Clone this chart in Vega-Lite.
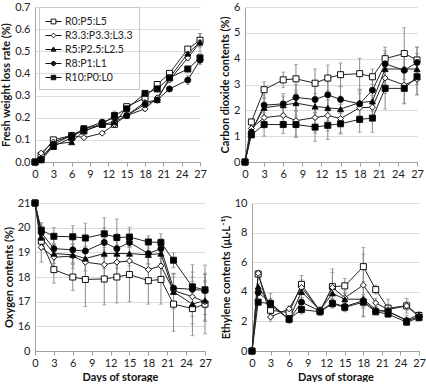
{
  "$schema": "https://vega.github.io/schema/vega-lite/v6.json",
  "padding": {"top": 1, "left": 0, "right": 6, "bottom": 0},
  "background": "white",
  "datasets": {
    "fw": [
      {"d":0,"t":"R0:P5:L5","v":0,"e":0},{"d":1,"t":"R0:P5:L5","v":0.03,"e":0},{"d":3,"t":"R0:P5:L5","v":0.10,"e":0},{"d":6,"t":"R0:P5:L5","v":0.12,"e":0},{"d":8,"t":"R0:P5:L5","v":0.14,"e":0},{"d":11,"t":"R0:P5:L5","v":0.17,"e":0},{"d":13,"t":"R0:P5:L5","v":0.17,"e":0.01},{"d":15,"t":"R0:P5:L5","v":0.25,"e":0},{"d":18,"t":"R0:P5:L5","v":0.29,"e":0.01},{"d":20,"t":"R0:P5:L5","v":0.35,"e":0},{"d":22,"t":"R0:P5:L5","v":0.40,"e":0},{"d":25,"t":"R0:P5:L5","v":0.51,"e":0.01},{"d":27,"t":"R0:P5:L5","v":0.55,"e":0.03},
      {"d":0,"t":"R3.3:P3.3:L3.3","v":0,"e":0},{"d":1,"t":"R3.3:P3.3:L3.3","v":0.04,"e":0},{"d":3,"t":"R3.3:P3.3:L3.3","v":0.09,"e":0},{"d":6,"t":"R3.3:P3.3:L3.3","v":0.12,"e":0},{"d":8,"t":"R3.3:P3.3:L3.3","v":0.11,"e":0},{"d":11,"t":"R3.3:P3.3:L3.3","v":0.13,"e":0},{"d":13,"t":"R3.3:P3.3:L3.3","v":0.17,"e":0.01},{"d":15,"t":"R3.3:P3.3:L3.3","v":0.21,"e":0},{"d":18,"t":"R3.3:P3.3:L3.3","v":0.24,"e":0.01},{"d":20,"t":"R3.3:P3.3:L3.3","v":0.29,"e":0},{"d":22,"t":"R3.3:P3.3:L3.3","v":0.37,"e":0},{"d":25,"t":"R3.3:P3.3:L3.3","v":0.47,"e":0.01},{"d":27,"t":"R3.3:P3.3:L3.3","v":0.54,"e":0.02},
      {"d":0,"t":"R5:P2.5:L2.5","v":0,"e":0},{"d":1,"t":"R5:P2.5:L2.5","v":0.02,"e":0},{"d":3,"t":"R5:P2.5:L2.5","v":0.08,"e":0},{"d":6,"t":"R5:P2.5:L2.5","v":0.09,"e":0},{"d":8,"t":"R5:P2.5:L2.5","v":0.14,"e":0},{"d":11,"t":"R5:P2.5:L2.5","v":0.17,"e":0.01},{"d":13,"t":"R5:P2.5:L2.5","v":0.18,"e":0.01},{"d":15,"t":"R5:P2.5:L2.5","v":0.21,"e":0},{"d":18,"t":"R5:P2.5:L2.5","v":0.27,"e":0},{"d":20,"t":"R5:P2.5:L2.5","v":0.28,"e":0},{"d":22,"t":"R5:P2.5:L2.5","v":0.38,"e":0},{"d":25,"t":"R5:P2.5:L2.5","v":0.49,"e":0.01},{"d":27,"t":"R5:P2.5:L2.5","v":0.54,"e":0.04},
      {"d":0,"t":"R8:P1:L1","v":0,"e":0},{"d":1,"t":"R8:P1:L1","v":0.01,"e":0},{"d":3,"t":"R8:P1:L1","v":0.08,"e":0},{"d":6,"t":"R8:P1:L1","v":0.12,"e":0},{"d":8,"t":"R8:P1:L1","v":0.15,"e":0},{"d":11,"t":"R8:P1:L1","v":0.18,"e":0},{"d":13,"t":"R8:P1:L1","v":0.20,"e":0.01},{"d":15,"t":"R8:P1:L1","v":0.21,"e":0},{"d":18,"t":"R8:P1:L1","v":0.26,"e":0},{"d":20,"t":"R8:P1:L1","v":0.28,"e":0},{"d":22,"t":"R8:P1:L1","v":0.33,"e":0},{"d":25,"t":"R8:P1:L1","v":0.37,"e":0.02},{"d":27,"t":"R8:P1:L1","v":0.46,"e":0.02},
      {"d":0,"t":"R10:P0:L0","v":0,"e":0},{"d":1,"t":"R10:P0:L0","v":0.01,"e":0},{"d":3,"t":"R10:P0:L0","v":0.07,"e":0},{"d":6,"t":"R10:P0:L0","v":0.11,"e":0},{"d":8,"t":"R10:P0:L0","v":0.15,"e":0},{"d":11,"t":"R10:P0:L0","v":0.17,"e":0.01},{"d":13,"t":"R10:P0:L0","v":0.21,"e":0.02},{"d":15,"t":"R10:P0:L0","v":0.24,"e":0},{"d":18,"t":"R10:P0:L0","v":0.31,"e":0},{"d":20,"t":"R10:P0:L0","v":0.33,"e":0},{"d":22,"t":"R10:P0:L0","v":0.38,"e":0},{"d":25,"t":"R10:P0:L0","v":0.42,"e":0},{"d":27,"t":"R10:P0:L0","v":0.47,"e":0.02}
    ],
    "co2": [
      {"d":0,"t":"R0:P5:L5","v":0,"e":0},{"d":1,"t":"R0:P5:L5","v":1.55,"e":0.1},{"d":3,"t":"R0:P5:L5","v":2.8,"e":0.3},{"d":6,"t":"R0:P5:L5","v":3.18,"e":0.3},{"d":8,"t":"R0:P5:L5","v":3.22,"e":0.55},{"d":11,"t":"R0:P5:L5","v":3.05,"e":0.55},{"d":13,"t":"R0:P5:L5","v":3.25,"e":0.5},{"d":15,"t":"R0:P5:L5","v":3.38,"e":0.45},{"d":18,"t":"R0:P5:L5","v":3.42,"e":0.6},{"d":20,"t":"R0:P5:L5","v":3.3,"e":0.3},{"d":22,"t":"R0:P5:L5","v":4.0,"e":0.45},{"d":25,"t":"R0:P5:L5","v":4.2,"e":1.0},{"d":27,"t":"R0:P5:L5","v":3.95,"e":0.5},
      {"d":0,"t":"R3.3:P3.3:L3.3","v":0,"e":0},{"d":1,"t":"R3.3:P3.3:L3.3","v":1.3,"e":0.15},{"d":3,"t":"R3.3:P3.3:L3.3","v":1.72,"e":0.4},{"d":6,"t":"R3.3:P3.3:L3.3","v":1.8,"e":0.4},{"d":8,"t":"R3.3:P3.3:L3.3","v":1.6,"e":0.6},{"d":11,"t":"R3.3:P3.3:L3.3","v":1.72,"e":0.6},{"d":13,"t":"R3.3:P3.3:L3.3","v":1.8,"e":0.6},{"d":15,"t":"R3.3:P3.3:L3.3","v":1.68,"e":0.55},{"d":18,"t":"R3.3:P3.3:L3.3","v":2.1,"e":0.55},{"d":20,"t":"R3.3:P3.3:L3.3","v":2.12,"e":0.45},{"d":22,"t":"R3.3:P3.3:L3.3","v":3.25,"e":0.6},{"d":25,"t":"R3.3:P3.3:L3.3","v":2.98,"e":0.7},{"d":27,"t":"R3.3:P3.3:L3.3","v":3.2,"e":0.6},
      {"d":0,"t":"R5:P2.5:L2.5","v":0,"e":0},{"d":1,"t":"R5:P2.5:L2.5","v":1.2,"e":0.1},{"d":3,"t":"R5:P2.5:L2.5","v":2.1,"e":0.35},{"d":6,"t":"R5:P2.5:L2.5","v":2.2,"e":0.35},{"d":8,"t":"R5:P2.5:L2.5","v":2.28,"e":0.5},{"d":11,"t":"R5:P2.5:L2.5","v":2.15,"e":0.5},{"d":13,"t":"R5:P2.5:L2.5","v":2.1,"e":0.5},{"d":15,"t":"R5:P2.5:L2.5","v":2.05,"e":0.5},{"d":18,"t":"R5:P2.5:L2.5","v":2.3,"e":0.5},{"d":20,"t":"R5:P2.5:L2.5","v":2.35,"e":0.4},{"d":22,"t":"R5:P2.5:L2.5","v":3.6,"e":0.6},{"d":25,"t":"R5:P2.5:L2.5","v":3.6,"e":0.7},{"d":27,"t":"R5:P2.5:L2.5","v":3.6,"e":0.6},
      {"d":0,"t":"R8:P1:L1","v":0,"e":0},{"d":1,"t":"R8:P1:L1","v":1.15,"e":0.1},{"d":3,"t":"R8:P1:L1","v":2.2,"e":0.4},{"d":6,"t":"R8:P1:L1","v":2.25,"e":0.4},{"d":8,"t":"R8:P1:L1","v":2.5,"e":0.5},{"d":11,"t":"R8:P1:L1","v":2.42,"e":0.5},{"d":13,"t":"R8:P1:L1","v":2.6,"e":0.5},{"d":15,"t":"R8:P1:L1","v":2.42,"e":0.5},{"d":18,"t":"R8:P1:L1","v":2.25,"e":0.5},{"d":20,"t":"R8:P1:L1","v":2.78,"e":0.4},{"d":22,"t":"R8:P1:L1","v":3.8,"e":0.5},{"d":25,"t":"R8:P1:L1","v":3.55,"e":0.6},{"d":27,"t":"R8:P1:L1","v":3.85,"e":0.6},
      {"d":0,"t":"R10:P0:L0","v":0,"e":0},{"d":1,"t":"R10:P0:L0","v":1.05,"e":0.1},{"d":3,"t":"R10:P0:L0","v":1.45,"e":0.45},{"d":6,"t":"R10:P0:L0","v":1.45,"e":0.35},{"d":8,"t":"R10:P0:L0","v":1.45,"e":0.5},{"d":11,"t":"R10:P0:L0","v":1.35,"e":0.55},{"d":13,"t":"R10:P0:L0","v":1.42,"e":0.55},{"d":15,"t":"R10:P0:L0","v":1.48,"e":0.4},{"d":18,"t":"R10:P0:L0","v":1.65,"e":0.5},{"d":20,"t":"R10:P0:L0","v":1.7,"e":0.55},{"d":22,"t":"R10:P0:L0","v":2.85,"e":0.8},{"d":25,"t":"R10:P0:L0","v":2.85,"e":0.6},{"d":27,"t":"R10:P0:L0","v":3.3,"e":0.7}
    ],
    "o2": [
      {"d":0,"t":"R0:P5:L5","v":21,"e":0},{"d":1,"t":"R0:P5:L5","v":19.45,"e":0.3},{"d":3,"t":"R0:P5:L5","v":18.3,"e":0.55},{"d":6,"t":"R0:P5:L5","v":18.0,"e":0.55},{"d":8,"t":"R0:P5:L5","v":17.9,"e":1.1},{"d":11,"t":"R0:P5:L5","v":17.92,"e":1.05},{"d":13,"t":"R0:P5:L5","v":18.0,"e":1.05},{"d":15,"t":"R0:P5:L5","v":18.1,"e":1.1},{"d":18,"t":"R0:P5:L5","v":17.85,"e":0.95},{"d":20,"t":"R0:P5:L5","v":17.9,"e":1.0},{"d":22,"t":"R0:P5:L5","v":16.9,"e":1.1},{"d":25,"t":"R0:P5:L5","v":16.72,"e":1.1},{"d":27,"t":"R0:P5:L5","v":16.9,"e":1.2},
      {"d":0,"t":"R3.3:P3.3:L3.3","v":21,"e":0},{"d":1,"t":"R3.3:P3.3:L3.3","v":19.2,"e":0.6},{"d":3,"t":"R3.3:P3.3:L3.3","v":18.8,"e":0.5},{"d":6,"t":"R3.3:P3.3:L3.3","v":18.85,"e":0.5},{"d":8,"t":"R3.3:P3.3:L3.3","v":18.6,"e":0.6},{"d":11,"t":"R3.3:P3.3:L3.3","v":18.5,"e":0.7},{"d":13,"t":"R3.3:P3.3:L3.3","v":18.6,"e":0.7},{"d":15,"t":"R3.3:P3.3:L3.3","v":18.65,"e":0.6},{"d":18,"t":"R3.3:P3.3:L3.3","v":18.3,"e":0.5},{"d":20,"t":"R3.3:P3.3:L3.3","v":18.45,"e":0.5},{"d":22,"t":"R3.3:P3.3:L3.3","v":17.45,"e":0.7},{"d":25,"t":"R3.3:P3.3:L3.3","v":17.2,"e":0.8},{"d":27,"t":"R3.3:P3.3:L3.3","v":17.0,"e":0.8},
      {"d":0,"t":"R5:P2.5:L2.5","v":21,"e":0},{"d":1,"t":"R5:P2.5:L2.5","v":19.6,"e":0.5},{"d":3,"t":"R5:P2.5:L2.5","v":18.95,"e":0.4},{"d":6,"t":"R5:P2.5:L2.5","v":18.9,"e":0.4},{"d":8,"t":"R5:P2.5:L2.5","v":18.75,"e":0.5},{"d":11,"t":"R5:P2.5:L2.5","v":18.95,"e":0.6},{"d":13,"t":"R5:P2.5:L2.5","v":18.95,"e":0.6},{"d":15,"t":"R5:P2.5:L2.5","v":18.95,"e":0.5},{"d":18,"t":"R5:P2.5:L2.5","v":18.9,"e":0.4},{"d":20,"t":"R5:P2.5:L2.5","v":18.95,"e":0.4},{"d":22,"t":"R5:P2.5:L2.5","v":17.4,"e":0.7},{"d":25,"t":"R5:P2.5:L2.5","v":16.9,"e":0.8},{"d":27,"t":"R5:P2.5:L2.5","v":17.05,"e":0.8},
      {"d":0,"t":"R8:P1:L1","v":21,"e":0},{"d":1,"t":"R8:P1:L1","v":19.8,"e":0.4},{"d":3,"t":"R8:P1:L1","v":19.15,"e":0.4},{"d":6,"t":"R8:P1:L1","v":19.1,"e":0.5},{"d":8,"t":"R8:P1:L1","v":19.05,"e":0.5},{"d":11,"t":"R8:P1:L1","v":19.4,"e":0.6},{"d":13,"t":"R8:P1:L1","v":19.15,"e":0.6},{"d":15,"t":"R8:P1:L1","v":19.4,"e":0.5},{"d":18,"t":"R8:P1:L1","v":18.95,"e":0.4},{"d":20,"t":"R8:P1:L1","v":19.15,"e":0.4},{"d":22,"t":"R8:P1:L1","v":17.55,"e":0.6},{"d":25,"t":"R8:P1:L1","v":17.5,"e":0.7},{"d":27,"t":"R8:P1:L1","v":17.45,"e":0.7},
      {"d":0,"t":"R10:P0:L0","v":21,"e":0},{"d":1,"t":"R10:P0:L0","v":19.9,"e":0.3},{"d":3,"t":"R10:P0:L0","v":19.65,"e":0.35},{"d":6,"t":"R10:P0:L0","v":19.63,"e":0.45},{"d":8,"t":"R10:P0:L0","v":19.58,"e":0.6},{"d":11,"t":"R10:P0:L0","v":19.75,"e":0.65},{"d":13,"t":"R10:P0:L0","v":19.6,"e":0.75},{"d":15,"t":"R10:P0:L0","v":19.62,"e":0.4},{"d":18,"t":"R10:P0:L0","v":19.42,"e":0.25},{"d":20,"t":"R10:P0:L0","v":19.4,"e":0.35},{"d":22,"t":"R10:P0:L0","v":18.68,"e":0.3},{"d":25,"t":"R10:P0:L0","v":17.6,"e":0.9},{"d":27,"t":"R10:P0:L0","v":17.48,"e":1.0}
    ],
    "eth": [
      {"d":0,"t":"R0:P5:L5","v":0,"e":0},{"d":1,"t":"R0:P5:L5","v":5.2,"e":0.2},{"d":3,"t":"R0:P5:L5","v":2.75,"e":0.3},{"d":6,"t":"R0:P5:L5","v":2.6,"e":0.2},{"d":8,"t":"R0:P5:L5","v":4.5,"e":0.6},{"d":11,"t":"R0:P5:L5","v":2.7,"e":0.3},{"d":13,"t":"R0:P5:L5","v":4.35,"e":1.2},{"d":15,"t":"R0:P5:L5","v":4.4,"e":0.5},{"d":18,"t":"R0:P5:L5","v":5.7,"e":1.3},{"d":20,"t":"R0:P5:L5","v":4.15,"e":0.3},{"d":22,"t":"R0:P5:L5","v":2.9,"e":0.6},{"d":25,"t":"R0:P5:L5","v":3.05,"e":0.5},{"d":27,"t":"R0:P5:L5","v":2.4,"e":0.2},
      {"d":0,"t":"R3.3:P3.3:L3.3","v":0,"e":0},{"d":1,"t":"R3.3:P3.3:L3.3","v":5.25,"e":0.2},{"d":3,"t":"R3.3:P3.3:L3.3","v":2.3,"e":0.3},{"d":6,"t":"R3.3:P3.3:L3.3","v":2.85,"e":0.2},{"d":8,"t":"R3.3:P3.3:L3.3","v":4.3,"e":0.5},{"d":11,"t":"R3.3:P3.3:L3.3","v":2.7,"e":0.2},{"d":13,"t":"R3.3:P3.3:L3.3","v":4.3,"e":1.0},{"d":15,"t":"R3.3:P3.3:L3.3","v":3.6,"e":0.5},{"d":18,"t":"R3.3:P3.3:L3.3","v":4.45,"e":2.1},{"d":20,"t":"R3.3:P3.3:L3.3","v":3.25,"e":0.3},{"d":22,"t":"R3.3:P3.3:L3.3","v":2.8,"e":0.3},{"d":25,"t":"R3.3:P3.3:L3.3","v":3.05,"e":0.3},{"d":27,"t":"R3.3:P3.3:L3.3","v":2.3,"e":0.2},
      {"d":0,"t":"R5:P2.5:L2.5","v":0,"e":0},{"d":1,"t":"R5:P2.5:L2.5","v":4.35,"e":0.2},{"d":3,"t":"R5:P2.5:L2.5","v":3.1,"e":0.8},{"d":6,"t":"R5:P2.5:L2.5","v":2.15,"e":0.2},{"d":8,"t":"R5:P2.5:L2.5","v":4.0,"e":0.4},{"d":11,"t":"R5:P2.5:L2.5","v":2.75,"e":0.2},{"d":13,"t":"R5:P2.5:L2.5","v":3.9,"e":0.4},{"d":15,"t":"R5:P2.5:L2.5","v":3.5,"e":0.4},{"d":18,"t":"R5:P2.5:L2.5","v":3.5,"e":1.2},{"d":20,"t":"R5:P2.5:L2.5","v":2.8,"e":0.2},{"d":22,"t":"R5:P2.5:L2.5","v":2.65,"e":0.3},{"d":25,"t":"R5:P2.5:L2.5","v":2.1,"e":0.3},{"d":27,"t":"R5:P2.5:L2.5","v":2.45,"e":0.2},
      {"d":0,"t":"R8:P1:L1","v":0,"e":0},{"d":1,"t":"R8:P1:L1","v":3.95,"e":0.2},{"d":3,"t":"R8:P1:L1","v":3.25,"e":0.3},{"d":6,"t":"R8:P1:L1","v":2.1,"e":0.2},{"d":8,"t":"R8:P1:L1","v":3.3,"e":0.3},{"d":11,"t":"R8:P1:L1","v":2.7,"e":0.2},{"d":13,"t":"R8:P1:L1","v":3.25,"e":0.3},{"d":15,"t":"R8:P1:L1","v":3.0,"e":0.3},{"d":18,"t":"R8:P1:L1","v":3.4,"e":0.4},{"d":20,"t":"R8:P1:L1","v":2.7,"e":0.2},{"d":22,"t":"R8:P1:L1","v":2.7,"e":0.2},{"d":25,"t":"R8:P1:L1","v":2.05,"e":0.2},{"d":27,"t":"R8:P1:L1","v":2.3,"e":0.2},
      {"d":0,"t":"R10:P0:L0","v":0,"e":0},{"d":1,"t":"R10:P0:L0","v":3.3,"e":0.2},{"d":3,"t":"R10:P0:L0","v":3.2,"e":0.3},{"d":6,"t":"R10:P0:L0","v":2.15,"e":0.2},{"d":8,"t":"R10:P0:L0","v":2.8,"e":0.3},{"d":11,"t":"R10:P0:L0","v":2.65,"e":0.2},{"d":13,"t":"R10:P0:L0","v":3.2,"e":0.3},{"d":15,"t":"R10:P0:L0","v":2.95,"e":0.3},{"d":18,"t":"R10:P0:L0","v":3.3,"e":0.4},{"d":20,"t":"R10:P0:L0","v":2.65,"e":0.2},{"d":22,"t":"R10:P0:L0","v":2.5,"e":0.2},{"d":25,"t":"R10:P0:L0","v":1.95,"e":0.2},{"d":27,"t":"R10:P0:L0","v":2.25,"e":0.2}
    ]
  },
  "config": {
    "font": "Lato",
    "view": {"stroke": null},
    "axis": {
      "labelFont": "Lato", "labelFontSize": 11, "labelColor": "#222",
      "titleFont": "Lato", "titleFontSize": 11, "titleFontWeight": "bold", "titleColor": "#111",
      "domainColor": "#a0a0a0", "tickColor": "#a0a0a0", "gridColor": "#dcdcdc",
      "labelOverlap": false, "labelFlush": false
    },
    "axisX": {"grid": false, "tickSize": 4, "labelPadding": 2, "titlePadding": 3},
    "axisY": {"ticks": false, "labelPadding": 5, "titlePadding": 3}
  },
  "vconcat": [
    {
      "spacing": 12,
      "hconcat": [
        {
          "width": 165, "height": 155,
          "data": {"name": "fw"},
          "encoding": {
            "x": {"field": "d", "type": "quantitative", "scale": {"domain": [0, 27], "nice": false}, "axis": {"values": [0,3,6,9,12,15,18,21,24,27], "title": null}},
            "y": {"field": "v", "type": "quantitative", "scale": {"domain": [0, 0.7], "nice": false}, "axis": {"values": [0,0.1,0.2,0.3,0.4,0.5,0.6,0.7], "format": ".1f", "title": "Fresh weight loss rate (%)"}}
          },
          "layer": [
            {"mark": {"type": "errorbar", "ticks": {"size": 4}, "color": "#8a8a8a", "thickness": 1}, "encoding": {"yError": {"field": "e"}, "detail": {"field": "t"}}},
            {"mark": {"type": "line", "color": "#222", "strokeWidth": 1}, "encoding": {"detail": {"field": "t"}}},
            {"mark": {"type": "point", "filled": true, "stroke": "#111", "strokeWidth": 1, "size": 36, "opacity": 1},
             "encoding": {
               "shape": {"field": "t", "scale": {"domain": ["R0:P5:L5","R3.3:P3.3:L3.3","R5:P2.5:L2.5","R8:P1:L1","R10:P0:L0"], "range": ["square","diamond","triangle-up","circle","square"]}, "legend": null},
               "fill": {"field": "t", "scale": {"domain": ["R0:P5:L5","R3.3:P3.3:L3.3","R5:P2.5:L2.5","R8:P1:L1","R10:P0:L0"], "range": ["white","white","black","black","black"]}, "legend": null}
             }},
            {"mark": {"type": "point", "opacity": 0, "stroke": "#111", "strokeWidth": 1},
             "encoding": {
               "shape": {"field": "t",
                 "scale": {"domain": ["R0:P5:L5","R3.3:P3.3:L3.3","R5:P2.5:L2.5","R8:P1:L1","R10:P0:L0"],
                   "range": [
                     "M-1,0H-0.3M0.3,0H1M-0.3,-0.3H0.3V0.3H-0.3Z",
                     "M-1,0H-0.3M0.3,0H1M-0.3,0L0,-0.3L0.3,0L0,0.3Z",
                     "M-1,0H1M-0.3,0.2L0,-0.32L0.3,0.2ZM-0.05,-0.24H0.05M-0.09,-0.16H0.09M-0.14,-0.08H0.14M-0.18,0H0.18M-0.23,0.08H0.23M-0.28,0.16H0.28",
                     "M-1,0H1M-0.26,0A0.26,0.26 0 1,0 0.26,0A0.26,0.26 0 1,0 -0.26,0ZM-0.1,-0.24H0.1M-0.2,-0.16H0.2M-0.25,-0.08H0.25M-0.25,0.08H0.25M-0.2,0.16H0.2M-0.1,0.24H0.1",
                     "M-1,0H1M-0.28,-0.28H0.28V0.28H-0.28ZM-0.28,-0.2H0.28M-0.28,-0.12H0.28M-0.28,-0.04H0.28M-0.28,0.04H0.28M-0.28,0.12H0.28M-0.28,0.2H0.28"
                   ]},
                 "legend": {
                   "title": null, "orient": "none", "legendX": 4, "legendY": 0,
                   "strokeColor": "#c8c8c8", "padding": 6, "symbolSize": 256, "symbolStrokeWidth": 1,
                   "symbolStrokeColor": "#111", "symbolFillColor": "white", "symbolOpacity": 1, "rowPadding": -3,
                   "labelFont": "Lato", "labelFontSize": 10.5, "labelColor": "#222", "labelOffset": 3
                 }}
             }}
          ],
          "resolve": {"scale": {"shape": "independent"}}
        },
        {
          "width": 172, "height": 155,
          "data": {"name": "co2"},
          "encoding": {
            "x": {"field": "d", "type": "quantitative", "scale": {"domain": [0, 27], "nice": false}, "axis": {"values": [0,3,6,9,12,15,18,21,24,27], "title": null}},
            "y": {"field": "v", "type": "quantitative", "scale": {"domain": [0, 6], "nice": false}, "axis": {"values": [0,1,2,3,4,5,6], "title": "Carbon dioxide contents (%)"}}
          },
          "layer": [
            {"mark": {"type": "errorbar", "ticks": {"size": 4}, "color": "#8a8a8a", "thickness": 1}, "encoding": {"yError": {"field": "e"}, "detail": {"field": "t"}}},
            {"mark": {"type": "line", "color": "#222", "strokeWidth": 1}, "encoding": {"detail": {"field": "t"}}},
            {"mark": {"type": "point", "filled": true, "stroke": "#111", "strokeWidth": 1, "size": 36, "opacity": 1},
             "encoding": {
               "shape": {"field": "t", "scale": {"domain": ["R0:P5:L5","R3.3:P3.3:L3.3","R5:P2.5:L2.5","R8:P1:L1","R10:P0:L0"], "range": ["square","diamond","triangle-up","circle","square"]}, "legend": null},
               "fill": {"field": "t", "scale": {"domain": ["R0:P5:L5","R3.3:P3.3:L3.3","R5:P2.5:L2.5","R8:P1:L1","R10:P0:L0"], "range": ["white","white","black","black","black"]}, "legend": null}
             }}
          ]
        }
      ]
    },
    {
      "spacing": 8,
      "hconcat": [
        {
          "width": 170, "height": 148,
          "data": {"name": "o2"},
          "encoding": {
            "x": {"field": "d", "type": "quantitative", "scale": {"domain": [0, 27], "nice": false}, "axis": {"values": [0,3,6,9,12,15,18,21,24,27], "title": "Days of storage"}},
            "y": {"field": "v", "type": "quantitative", "scale": {"domain": [15, 21], "nice": false, "clamp": true}, "axis": {"values": [15,16,17,18,19,20,21], "labelExpr": "datum.value == 15 ? '0' : datum.label", "title": "Oxygen contents (%)"}}
          },
          "layer": [
            {"mark": {"type": "errorbar", "ticks": {"size": 4}, "color": "#8a8a8a", "thickness": 1}, "encoding": {"yError": {"field": "e"}, "detail": {"field": "t"}}},
            {"mark": {"type": "line", "color": "#222", "strokeWidth": 1}, "encoding": {"detail": {"field": "t"}}},
            {"mark": {"type": "point", "filled": true, "stroke": "#111", "strokeWidth": 1, "size": 36, "opacity": 1},
             "encoding": {
               "shape": {"field": "t", "scale": {"domain": ["R0:P5:L5","R3.3:P3.3:L3.3","R5:P2.5:L2.5","R8:P1:L1","R10:P0:L0"], "range": ["square","diamond","triangle-up","circle","square"]}, "legend": null},
               "fill": {"field": "t", "scale": {"domain": ["R0:P5:L5","R3.3:P3.3:L3.3","R5:P2.5:L2.5","R8:P1:L1","R10:P0:L0"], "range": ["white","white","black","black","black"]}, "legend": null}
             }}
          ]
        },
        {
          "width": 167, "height": 148,
          "data": {"name": "eth"},
          "encoding": {
            "x": {"field": "d", "type": "quantitative", "scale": {"domain": [0, 27], "nice": false}, "axis": {"values": [0,3,6,9,12,15,18,21,24,27], "title": "Days of storage"}},
            "y": {"field": "v", "type": "quantitative", "scale": {"domain": [0, 10], "nice": false}, "axis": {"values": [0,2,4,6,8,10], "title": "Ethylene contents (μL·L⁻¹)"}}
          },
          "layer": [
            {"mark": {"type": "errorbar", "ticks": {"size": 4}, "color": "#8a8a8a", "thickness": 1}, "encoding": {"yError": {"field": "e"}, "detail": {"field": "t"}}},
            {"mark": {"type": "line", "color": "#222", "strokeWidth": 1}, "encoding": {"detail": {"field": "t"}}},
            {"mark": {"type": "point", "filled": true, "stroke": "#111", "strokeWidth": 1, "size": 36, "opacity": 1},
             "encoding": {
               "shape": {"field": "t", "scale": {"domain": ["R0:P5:L5","R3.3:P3.3:L3.3","R5:P2.5:L2.5","R8:P1:L1","R10:P0:L0"], "range": ["square","diamond","triangle-up","circle","square"]}, "legend": null},
               "fill": {"field": "t", "scale": {"domain": ["R0:P5:L5","R3.3:P3.3:L3.3","R5:P2.5:L2.5","R8:P1:L1","R10:P0:L0"], "range": ["white","white","black","black","black"]}, "legend": null}
             }}
          ]
        }
      ]
    }
  ],
  "spacing": 18
}
